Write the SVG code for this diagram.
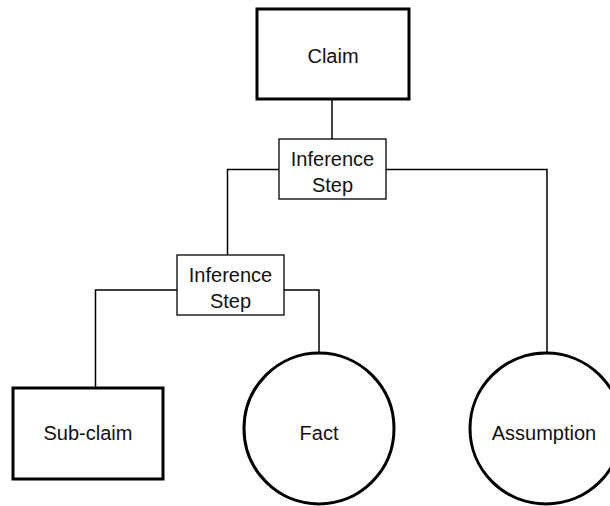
<svg xmlns="http://www.w3.org/2000/svg" width="610" height="506" viewBox="0 0 610 506">
  <style>
    .bg { fill: #ffffff; }
    .box { fill: #ffffff; stroke: #000000; stroke-width: 3; }
    .step { fill: #ffffff; stroke: #000000; stroke-width: 1.3; }
    .circ { fill: #ffffff; stroke: #000000; stroke-width: 3; }
    .conn { fill: none; stroke: #000000; stroke-width: 1.5; }
    text { font-family: "Liberation Sans", Arial, sans-serif; font-size: 20px; fill: #111111; text-anchor: middle; }
  </style>
  <rect class="bg" x="0" y="0" width="610" height="506"/>
  <g id="connectors">
    <path class="conn" d="M332,99 V139"/>
    <path class="conn" d="M279,169.5 H227.5 V255"/>
    <path class="conn" d="M386,169.5 H547 V353"/>
    <path class="conn" d="M177,290 H95.5 V388"/>
    <path class="conn" d="M284,290 H319 V353"/>
  </g>
  <g id="claim">
    <rect class="box" x="257" y="9" width="152" height="90"/>
    <text x="333" y="63">Claim</text>
  </g>
  <g id="inference-step-1">
    <rect class="step" x="279" y="139" width="107" height="60"/>
    <text x="332.5" y="166">Inference</text>
    <text x="332.5" y="192">Step</text>
  </g>
  <g id="inference-step-2">
    <rect class="step" x="177" y="255" width="107" height="60"/>
    <text x="230.5" y="282">Inference</text>
    <text x="230.5" y="308">Step</text>
  </g>
  <g id="sub-claim">
    <rect class="box" x="13" y="388" width="150" height="91"/>
    <text x="88" y="440">Sub-claim</text>
  </g>
  <g id="fact">
    <ellipse class="circ" cx="319" cy="428.5" rx="75" ry="75.5"/>
    <text x="319" y="440">Fact</text>
  </g>
  <g id="assumption">
    <ellipse class="circ" cx="546" cy="428.5" rx="76" ry="75.5"/>
    <text x="544" y="440">Assumption</text>
  </g>
</svg>
